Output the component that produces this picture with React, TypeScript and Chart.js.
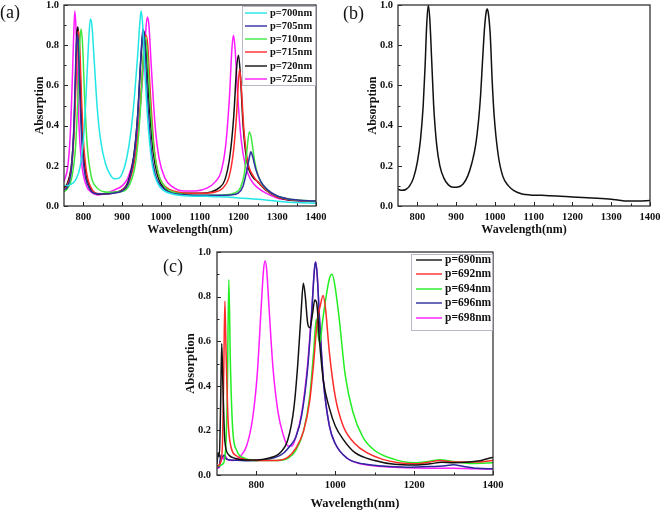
import React, { useEffect, useRef } from "react";
import { Chart, registerables } from "chart.js";
Chart.register(...registerables);

const SERIF = "'Liberation Serif', 'Times New Roman', Times, serif";

// ---------- shared axis ticks ----------
const yTicks = [0, 0.2, 0.4, 0.6, 0.8, 1.0];
const yMinor = [0.1, 0.3, 0.5, 0.7, 0.9];
const abXTicks = [800, 900, 1000, 1100, 1200, 1300, 1400];
const abXMinor = [850, 950, 1050, 1150, 1250, 1350];
const cXTicks = [800, 1000, 1200, 1400];
const cXMinor = [900, 1100, 1300];

// ---------- panel (a) ----------
const a700X = [750, 765, 780, 792, 800, 807, 813, 818, 822, 828, 836, 845, 857, 868, 880, 893, 902, 912, 922, 932, 940, 946, 949, 953, 960, 968, 978, 990, 1005, 1030, 1070, 1120, 1170, 1200, 1250, 1300, 1350, 1400];
const a700Y = [0.1, 0.105, 0.13, 0.2, 0.33, 0.55, 0.8, 0.93, 0.9, 0.72, 0.48, 0.32, 0.21, 0.16, 0.135, 0.14, 0.17, 0.24, 0.36, 0.55, 0.75, 0.92, 0.97, 0.9, 0.62, 0.38, 0.2, 0.12, 0.08, 0.06, 0.05, 0.048, 0.045, 0.04, 0.033, 0.024, 0.017, 0.014];

const a705X = [750, 760, 770, 776, 780, 784, 787, 791, 796, 803, 815, 830, 860, 880, 900, 915, 930, 940, 947, 952, 954, 958, 965, 975, 985, 1000, 1020, 1050, 1100, 1150, 1180, 1200, 1212, 1222, 1229, 1232, 1236, 1245, 1258, 1275, 1300, 1340, 1400];
const a705Y = [0.08, 0.1, 0.2, 0.42, 0.7, 0.86, 0.8, 0.55, 0.32, 0.17, 0.09, 0.062, 0.06, 0.065, 0.075, 0.11, 0.24, 0.45, 0.7, 0.85, 0.88, 0.82, 0.55, 0.28, 0.16, 0.1, 0.07, 0.057, 0.053, 0.053, 0.055, 0.065, 0.1, 0.18, 0.25, 0.27, 0.25, 0.18, 0.12, 0.08, 0.05, 0.032, 0.025];

const a710X = [750, 760, 770, 780, 786, 790, 794, 798, 803, 810, 820, 835, 850, 870, 900, 920, 935, 945, 952, 957, 960, 964, 972, 982, 995, 1010, 1040, 1080, 1120, 1160, 1190, 1205, 1215, 1222, 1228, 1233, 1242, 1255, 1275, 1300, 1340, 1400];
const a710Y = [0.07, 0.09, 0.14, 0.3, 0.55, 0.78, 0.88, 0.8, 0.55, 0.3, 0.15, 0.09, 0.072, 0.068, 0.072, 0.11, 0.22, 0.42, 0.65, 0.82, 0.84, 0.78, 0.52, 0.28, 0.15, 0.095, 0.065, 0.055, 0.053, 0.055, 0.065, 0.09, 0.16, 0.28, 0.37, 0.34, 0.22, 0.13, 0.08, 0.05, 0.032, 0.025];

const a715X = [750, 760, 770, 777, 782, 786, 788, 791, 795, 800, 808, 820, 835, 860, 880, 900, 920, 935, 945, 953, 959, 962, 966, 973, 982, 992, 1005, 1025, 1060, 1100, 1140, 1160, 1175, 1187, 1195, 1200, 1203, 1207, 1214, 1224, 1238, 1255, 1275, 1300, 1340, 1400];
const a715Y = [0.08, 0.11, 0.2, 0.4, 0.68, 0.86, 0.87, 0.78, 0.55, 0.33, 0.17, 0.09, 0.062, 0.06, 0.066, 0.078, 0.13, 0.26, 0.45, 0.7, 0.84, 0.85, 0.8, 0.55, 0.3, 0.17, 0.11, 0.08, 0.065, 0.063, 0.07, 0.09, 0.14, 0.27, 0.45, 0.62, 0.68, 0.6, 0.38, 0.22, 0.15, 0.11, 0.075, 0.045, 0.03, 0.025];

const a720X = [750, 760, 770, 776, 780, 783, 786, 789, 793, 798, 805, 815, 830, 840, 860, 880, 900, 915, 930, 940, 948, 953, 956, 962, 970, 980, 990, 1000, 1020, 1050, 1100, 1130, 1150, 1165, 1178, 1188, 1195, 1200, 1205, 1212, 1222, 1235, 1250, 1270, 1300, 1330, 1360, 1400];
const a720Y = [0.09, 0.12, 0.22, 0.4, 0.65, 0.85, 0.89, 0.8, 0.55, 0.33, 0.18, 0.1, 0.065, 0.058, 0.062, 0.068, 0.08, 0.12, 0.25, 0.45, 0.72, 0.85, 0.87, 0.78, 0.5, 0.27, 0.16, 0.11, 0.075, 0.065, 0.063, 0.07, 0.09, 0.13, 0.25, 0.45, 0.68, 0.75, 0.65, 0.4, 0.22, 0.15, 0.12, 0.08, 0.045, 0.03, 0.026, 0.025];

const a725X = [750, 760, 766, 771, 775, 778, 781, 785, 790, 797, 808, 822, 838, 860, 880, 900, 915, 930, 942, 952, 960, 965, 969, 975, 985, 995, 1010, 1030, 1060, 1090, 1120, 1140, 1155, 1167, 1177, 1183, 1187, 1191, 1198, 1207, 1218, 1232, 1250, 1275, 1300, 1340, 1400];
const a725Y = [0.12, 0.2, 0.35, 0.6, 0.85, 0.97, 0.88, 0.6, 0.35, 0.19, 0.1, 0.066, 0.055, 0.065, 0.08, 0.1, 0.14, 0.24, 0.4, 0.62, 0.85, 0.94, 0.9, 0.7, 0.4, 0.24, 0.14, 0.095, 0.075, 0.075, 0.09, 0.12, 0.17, 0.3, 0.55, 0.78, 0.85, 0.79, 0.55, 0.33, 0.2, 0.13, 0.09, 0.06, 0.04, 0.028, 0.022];

// ---------- panel (b) ----------
const bX = [750, 760, 770, 780, 790, 800, 808, 815, 820, 824, 828, 832, 837, 842, 850, 858, 868, 880, 893, 905, 918, 930, 940, 950, 958, 963, 968, 973, 977, 980, 983, 988, 993, 998, 1008, 1020, 1035, 1050, 1070, 1090, 1120, 1160, 1200, 1250, 1300, 1320, 1340, 1370, 1400];
const bY = [0.083, 0.078, 0.082, 0.1, 0.14, 0.22, 0.33, 0.5, 0.7, 0.9, 1.0, 0.93, 0.72, 0.5, 0.3, 0.2, 0.14, 0.105, 0.093, 0.095, 0.11, 0.15, 0.21, 0.3, 0.43, 0.55, 0.72, 0.88, 0.96, 0.98, 0.96, 0.85, 0.62, 0.45, 0.26, 0.15, 0.1, 0.075, 0.06, 0.055, 0.053, 0.05, 0.045, 0.04, 0.034, 0.029, 0.025, 0.025, 0.027];

// ---------- panel (c) ----------
const c690X = [700, 703, 706, 709, 712, 715, 720, 730, 745, 770, 800, 830, 860, 880, 895, 905, 913, 919, 924, 930, 936, 942, 948, 953, 960, 970, 985, 1000, 1020, 1050, 1100, 1150, 1200, 1240, 1270, 1300, 1340, 1370, 1400];
const c690Y = [0.05, 0.1, 0.08, 0.3, 0.59, 0.4, 0.15, 0.09, 0.075, 0.067, 0.067, 0.075, 0.1, 0.16, 0.3, 0.5, 0.72, 0.86, 0.8, 0.68, 0.66, 0.72, 0.785, 0.77, 0.6, 0.42, 0.3, 0.22, 0.16, 0.1, 0.065, 0.048, 0.045, 0.05, 0.057, 0.055, 0.058, 0.065, 0.08];

const c692X = [700, 710, 714, 717, 720, 723, 728, 735, 750, 770, 800, 850, 880, 900, 920, 935, 945, 952, 957, 962, 969, 975, 985, 1000, 1020, 1050, 1080, 1120, 1160, 1200, 1240, 1265, 1300, 1350, 1400];
const c692Y = [0.04, 0.06, 0.15, 0.45, 0.78, 0.55, 0.25, 0.13, 0.085, 0.07, 0.065, 0.065, 0.08, 0.12, 0.2, 0.33, 0.5, 0.65, 0.72, 0.76, 0.805, 0.75, 0.55, 0.35, 0.22, 0.14, 0.1, 0.07, 0.055, 0.05, 0.058, 0.065, 0.058, 0.058, 0.065];

const c694X = [700, 715, 722, 726, 730, 734, 740, 750, 770, 800, 850, 880, 900, 920, 935, 945, 952, 957, 961, 967, 975, 985, 992, 998, 1010, 1025, 1045, 1070, 1100, 1150, 1200, 1240, 1265, 1300, 1350, 1400];
const c694Y = [0.04, 0.05, 0.12, 0.35, 0.877, 0.5, 0.2, 0.11, 0.075, 0.065, 0.065, 0.075, 0.11, 0.2, 0.35, 0.55, 0.7, 0.62, 0.59, 0.68, 0.78, 0.88, 0.9, 0.86, 0.7, 0.45, 0.28, 0.17, 0.11, 0.07, 0.055, 0.062, 0.068, 0.06, 0.052, 0.055];

const c696X = [700, 705, 710, 714, 718, 722, 730, 750, 780, 820, 850, 870, 885, 900, 915, 930, 940, 947, 950, 954, 960, 970, 985, 1000, 1030, 1070, 1120, 1180, 1240, 1280, 1300, 1320, 1360, 1400];
const c696Y = [0.04, 0.035, 0.09, 0.08, 0.09, 0.075, 0.068, 0.066, 0.064, 0.068, 0.08, 0.1, 0.13, 0.17, 0.27, 0.48, 0.72, 0.92, 0.955, 0.9, 0.7, 0.42, 0.22, 0.14, 0.075, 0.05, 0.04, 0.035, 0.038, 0.042, 0.046, 0.04, 0.03, 0.028];

const c698X = [700, 706, 712, 716, 720, 726, 740, 760, 775, 790, 802, 812, 818, 822, 826, 832, 842, 855, 868, 880, 890, 900, 915, 930, 940, 947, 950, 954, 960, 970, 985, 1000, 1030, 1070, 1120, 1180, 1240, 1300, 1350, 1400];
const c698Y = [0.03, 0.035, 0.08, 0.07, 0.09, 0.07, 0.065, 0.085, 0.13, 0.25, 0.45, 0.75, 0.92, 0.96, 0.92, 0.75, 0.48, 0.28, 0.18, 0.13, 0.13, 0.17, 0.28, 0.5, 0.73, 0.92, 0.955, 0.9, 0.7, 0.42, 0.22, 0.14, 0.075, 0.048, 0.038, 0.032, 0.03, 0.03, 0.028, 0.027];

type Series = { label: string; color: string; x: number[]; y: number[] };

const aSeries: Series[] = [
  { label: "p=700nm", color: "#22e6e6", x: a700X, y: a700Y },
  { label: "p=705nm", color: "#2e2e9e", x: a705X, y: a705Y },
  { label: "p=710nm", color: "#3ee83e", x: a710X, y: a710Y },
  { label: "p=715nm", color: "#ff2a2a", x: a715X, y: a715Y },
  { label: "p=720nm", color: "#111111", x: a720X, y: a720Y },
  { label: "p=725nm", color: "#ff1aff", x: a725X, y: a725Y },
];
const bSeries: Series[] = [{ label: "b", color: "#111111", x: bX, y: bY }];
const cSeries: Series[] = [
  { label: "p=690nm", color: "#111111", x: c690X, y: c690Y },
  { label: "p=692nm", color: "#ff2a2a", x: c692X, y: c692Y },
  { label: "p=694nm", color: "#22ee22", x: c694X, y: c694Y },
  { label: "p=696nm", color: "#2a2a9a", x: c696X, y: c696Y },
  { label: "p=698nm", color: "#ff1aff", x: c698X, y: c698Y },
];

type Legend = { left: number; top: number; right: number; bottom: number; l0: number; l1: number; tx: number; rows: number[]; size: number };
type Panel = {
  key: string; left: number; top: number; width: number; height: number;
  pl: number; pr: number; pt: number; pb: number;
  xMin: number; xMax: number; xMajor: number[]; xMinor: number[];
  series: Series[]; legend?: Legend;
  tag: string; tagX: number; tagY: number;
  yTitleX: number; xTitleY: number; titleSize: number; tickSize: number; yPad: number; xPad: number;
};

const panels: Panel[] = [
  {
    key: "a", left: 0, top: 0, width: 330, height: 240, pl: 64, pr: 316, pt: 5, pb: 206,
    xMin: 750, xMax: 1400, xMajor: abXTicks, xMinor: abXMinor, series: aSeries,
    legend: { left: 242, top: 6, right: 316, bottom: 86, l0: 245, l1: 267, tx: 270, rows: [13, 26, 39, 52, 66, 79], size: 10.5 },
    tag: "(a)", tagX: 0, tagY: 13, yTitleX: 40, xTitleY: 230, titleSize: 12, tickSize: 10.5, yPad: 5, xPad: 5,
  },
  {
    key: "b", left: 330, top: 0, width: 331, height: 240, pl: 68, pr: 320, pt: 5, pb: 206,
    xMin: 750, xMax: 1400, xMajor: abXTicks, xMinor: abXMinor, series: bSeries,
    tag: "(b)", tagX: 13, tagY: 14, yTitleX: 43, xTitleY: 230, titleSize: 12, tickSize: 10.5, yPad: 5, xPad: 5,
  },
  {
    key: "c", left: 140, top: 240, width: 380, height: 272, pl: 77, pr: 353, pt: 12, pb: 235,
    xMin: 700, xMax: 1400, xMajor: cXTicks, xMinor: cXMinor, series: cSeries,
    legend: { left: 271, top: 14, right: 353, bottom: 91, l0: 276, l1: 302, tx: 305, rows: [20, 34, 49, 63, 78], size: 11.5 },
    tag: "(c)", tagX: 23, tagY: 27, yTitleX: 51, xTitleY: 264, titleSize: 12.5, tickSize: 10.5, yPad: 6, xPad: 4,
  },
];

function decor(p: Panel) {
  return {
    id: "decor_" + p.key,
    afterDraw(chart: any) {
      const { ctx, chartArea: ca, scales } = chart;
      const xs = scales.x, ys = scales.y;
      ctx.save();
      ctx.strokeStyle = "#222";
      ctx.lineWidth = 1;
      ctx.beginPath();
      const xt = (v: number, len: number) => {
        const px = Math.round(xs.getPixelForValue(v)) + 0.5;
        ctx.moveTo(px, ca.bottom); ctx.lineTo(px, ca.bottom - len);
      };
      const yt = (v: number, len: number) => {
        const py = Math.round(ys.getPixelForValue(v)) + 0.5;
        ctx.moveTo(ca.left, py); ctx.lineTo(ca.left + len, py);
      };
      p.xMajor.forEach((v) => xt(v, 4));
      p.xMinor.forEach((v) => xt(v, 2.5));
      yTicks.forEach((v) => yt(v, 4));
      yMinor.forEach((v) => yt(v, 2.5));
      ctx.stroke();
      ctx.lineWidth = 1.3;
      ctx.strokeStyle = "#333";
      ctx.strokeRect(ca.left, ca.top, ca.right - ca.left, ca.bottom - ca.top);
      const lg = p.legend;
      if (lg) {
        ctx.fillStyle = "#fff";
        ctx.fillRect(lg.left, lg.top, lg.right - lg.left, lg.bottom - lg.top);
        ctx.strokeStyle = "#b8b8c8";
        ctx.lineWidth = 1;
        ctx.strokeRect(lg.left + 0.5, lg.top + 0.5, lg.right - lg.left - 1, lg.bottom - lg.top - 1);
        ctx.font = `bold ${lg.size}px ${SERIF}`;
        ctx.textBaseline = "middle";
        ctx.textAlign = "left";
        chart.data.datasets.forEach((ds: any, i: number) => {
          const y = lg.rows[i];
          ctx.strokeStyle = ds.borderColor;
          ctx.lineWidth = 1.4;
          ctx.beginPath();
          ctx.moveTo(lg.l0, y); ctx.lineTo(lg.l1, y);
          ctx.stroke();
          ctx.fillStyle = "#111";
          ctx.fillText(ds.label, lg.tx, y + 0.5);
        });
      }
      ctx.font = `18px ${SERIF}`;
      ctx.fillStyle = "#111";
      ctx.textBaseline = "middle";
      ctx.textAlign = "left";
      ctx.fillText(p.tag, p.tagX, p.tagY);
      ctx.restore();
    },
  };
}

function PanelChart({ p }: { p: Panel }) {
  const ref = useRef<HTMLCanvasElement | null>(null);
  useEffect(() => {
    if (!ref.current) return;
    const tickFont = { family: SERIF, size: p.tickSize, weight: "bold" as const };
    const titleFont = { family: SERIF, size: p.titleSize, weight: "bold" as const };
    const lh = p.titleSize * 1.2 / 2;
    const chart = new Chart(ref.current, {
      type: "line",
      data: {
        datasets: p.series.map((s) => ({
          label: s.label,
          data: s.x.map((x, i) => ({ x, y: s.y[i] })),
          borderColor: s.color,
          backgroundColor: s.color,
          borderWidth: 1.5,
          pointRadius: 0,
          fill: false,
          cubicInterpolationMode: "monotone" as const,
        })),
      },
      options: {
        responsive: false,
        animation: false,
        devicePixelRatio: 1,
        layout: { padding: { left: 0, top: p.pt, right: p.width - p.pr, bottom: 0 } },
        plugins: { legend: { display: false }, tooltip: { enabled: false } },
        scales: {
          x: {
            type: "linear",
            min: p.xMin,
            max: p.xMax,
            grid: { display: false, drawTicks: false },
            border: { display: false },
            afterFit: (s: any) => { s.height = p.height - p.pb; s.paddingLeft = 0; s.paddingRight = 0; },
            afterBuildTicks: (s: any) => { s.ticks = p.xMajor.map((v) => ({ value: v })); },
            ticks: { font: tickFont, color: "#111", padding: p.xPad, maxRotation: 0, autoSkip: false, callback: (v: any) => String(v) },
            title: { display: true, text: "Wavelength(nm)", font: titleFont, color: "#111", padding: { top: 0, bottom: Math.max(0, (p.height - p.xTitleY) - lh) } },
          },
          y: {
            type: "linear",
            min: 0,
            max: 1,
            grid: { display: false, drawTicks: false },
            border: { display: false },
            afterFit: (s: any) => { s.width = p.pl; s.paddingTop = 0; s.paddingBottom = 0; },
            afterBuildTicks: (s: any) => { s.ticks = yTicks.map((v) => ({ value: v })); },
            ticks: { font: tickFont, color: "#111", padding: p.yPad, callback: (v: any) => Number(v).toFixed(1) },
            title: { display: true, text: "Absorption", font: titleFont, color: "#111", padding: { top: p.yTitleX - lh, bottom: 0 } },
          },
        },
      },
      plugins: [decor(p)],
    } as any);
    return () => chart.destroy();
  }, [p]);
  return (
    <canvas
      ref={ref}
      width={p.width}
      height={p.height}
      style={{ position: "absolute", left: p.left, top: p.top, width: p.width, height: p.height }}
    />
  );
}

export default function App() {
  return (
    <div style={{ position: "absolute", left: 0, top: 0, width: 661, height: 512, background: "#fff", overflow: "hidden" }}>
      {panels.map((p) => (
        <PanelChart key={p.key} p={p} />
      ))}
    </div>
  );
}
